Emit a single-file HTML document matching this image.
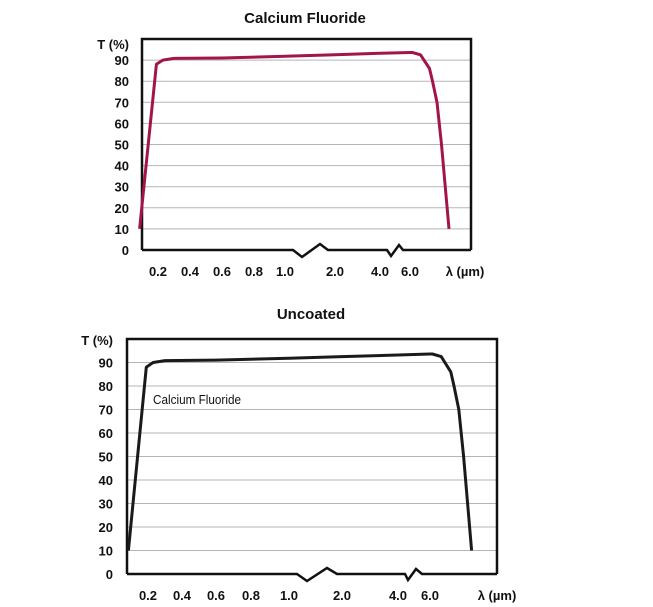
<!DOCTYPE html>
<html><head><meta charset="utf-8"><style>
body{margin:0;background:#fff;width:653px;height:607px;overflow:hidden}
svg{display:block}
text{font-family:"Liberation Sans",sans-serif;font-weight:bold;fill:#111}
</style></head><body>
<svg id="svg" width="653" height="607"></svg>
<script>
// shared data: wavelength (µm) vs transmission (%)
const wavelengths = [0.085, 0.19, 0.23, 0.3, 0.6, 1.0, 2.0, 4.0, 6.0, 6.15, 6.7, 7.3, 7.5, 7.8, 8.1, 8.6];
const transmission = [10, 88, 90, 90.8, 91, 91.8, 92.5, 93.2, 93.6, 93.6, 92.5, 86, 80, 70, 50, 10];
const tickValues = [0.2, 0.4, 0.6, 0.8, 1.0, 2.0, 4.0, 6.0];
const tickLabels = ["0.2", "0.4", "0.6", "0.8", "1.0", "2.0", "4.0", "6.0"];
const yTicks = [0, 10, 20, 30, 40, 50, 60, 70, 80, 90];

const NS = "http://www.w3.org/2000/svg";
const svg = document.getElementById("svg");
function mk(tag, attrs, parent){const e=document.createElementNS(NS,tag);for(const k in attrs)e.setAttribute(k,attrs[k]);(parent||svg).appendChild(e);return e;}

const charts = [
 {id:"chart-calcium-fluoride", title:"Calcium Fluoride", titleX:305, titleY:23, left:142, right:471, top:39, y0:250, per10:21.1,
  tickPx:[158,190,222,254,285,335,380,410], color:"#a3154a", labelRight:129, tLabelY:49, lamX:465,
  brk1:[293,302,320,328], brk2:[387,391,399,403], label:null},
 {id:"chart-uncoated", title:"Uncoated", titleX:311, titleY:319, left:127, right:497, top:339, y0:574, per10:23.5,
  tickPx:[148,182,216,251,289,342,398,430], color:"#1a1a1a", labelRight:113, tLabelY:345, lamX:497,
  brk1:[297,307,327,337], brk2:[405,408,416,422], label:"Calcium Fluoride"}
];

charts.forEach(c=>{
  const g = mk("g",{});
  
  
  const yS = v => c.y0 - v/10*c.per10;
  const xS = w => {
    const t=tickValues, p=c.tickPx;
    if (w<=t[0]) return p[0]+(w-t[0])*(p[1]-p[0])/(t[1]-t[0]);
    for(let i=0;i<t.length-1;i++) if(w<=t[i+1]) return p[i]+(w-t[i])*(p[i+1]-p[i])/(t[i+1]-t[i]);
    const n=t.length-1; return p[n]+(w-t[n])*(p[n]-p[n-1])/(t[n]-t[n-1]);
  };
  const tt = mk("text",{x:c.titleX,y:c.titleY,"text-anchor":"middle","font-size":"15"},g);
  tt.textContent=c.title;
  
  
  // gridlines
  yTicks.forEach(v=>{
    if(v>0){const l=mk("line",{x1:c.left,x2:c.right,y1:yS(v),y2:yS(v),stroke:"#b5b5b5","stroke-width":1},g);
      
      }
    const t=mk("text",{x:c.labelRight,y:yS(v)+5,"text-anchor":"end","font-size":"13"},g);
    t.textContent=v;
    
    
  });
  const ty=mk("text",{x:c.labelRight,y:c.tLabelY,"text-anchor":"end","font-size":"13"},g);
  ty.textContent="T (%)";
  
  
  // frame (left, top, right)
  const fr=mk("path",{d:`M${c.left},${c.y0} V${c.top} H${c.right} V${c.y0}`,fill:"none",stroke:"#111","stroke-width":2.5},g);
  
  
  const b1=c.brk1,b2=c.brk2,y0=c.y0;
  const ax=mk("path",{d:`M${c.left},${y0} H${b1[0]} L${b1[1]},${y0+7} L${b1[2]},${y0-6} L${b1[3]},${y0} H${b2[0]} L${b2[1]},${y0+6} L${b2[2]},${y0-5} L${b2[3]},${y0} H${c.right}`,fill:"none",stroke:"#111","stroke-width":2.5,"stroke-linejoin":"miter"},g);
  
  
  tickValues.forEach((v,i)=>{
    const t=mk("text",{x:xS(v),y:y0+26,"text-anchor":"middle","font-size":"13"},g);
    t.textContent=tickLabels[i];
    
    
  });
  const lx=mk("text",{x:c.lamX,y:y0+26,"text-anchor":"middle","font-size":"13"},g);
  lx.textContent="λ (µm)";
  
  
  const d=wavelengths.map((w,i)=>(i?"L":"M")+xS(w).toFixed(1)+","+yS(transmission[i]).toFixed(1)).join(" ");
  const ln=mk("path",{d:d,fill:"none",stroke:c.color,"stroke-width":3,"stroke-linejoin":"round"},g);
  
  
  if(c.label){
    const lb=mk("text",{x:153,y:404,"font-size":"13","font-weight":"normal",textLength:88,lengthAdjust:"spacingAndGlyphs"},g);
    lb.style.fontWeight="normal";
    lb.textContent=c.label;
    
    
  }
});
</script>
</body></html>
